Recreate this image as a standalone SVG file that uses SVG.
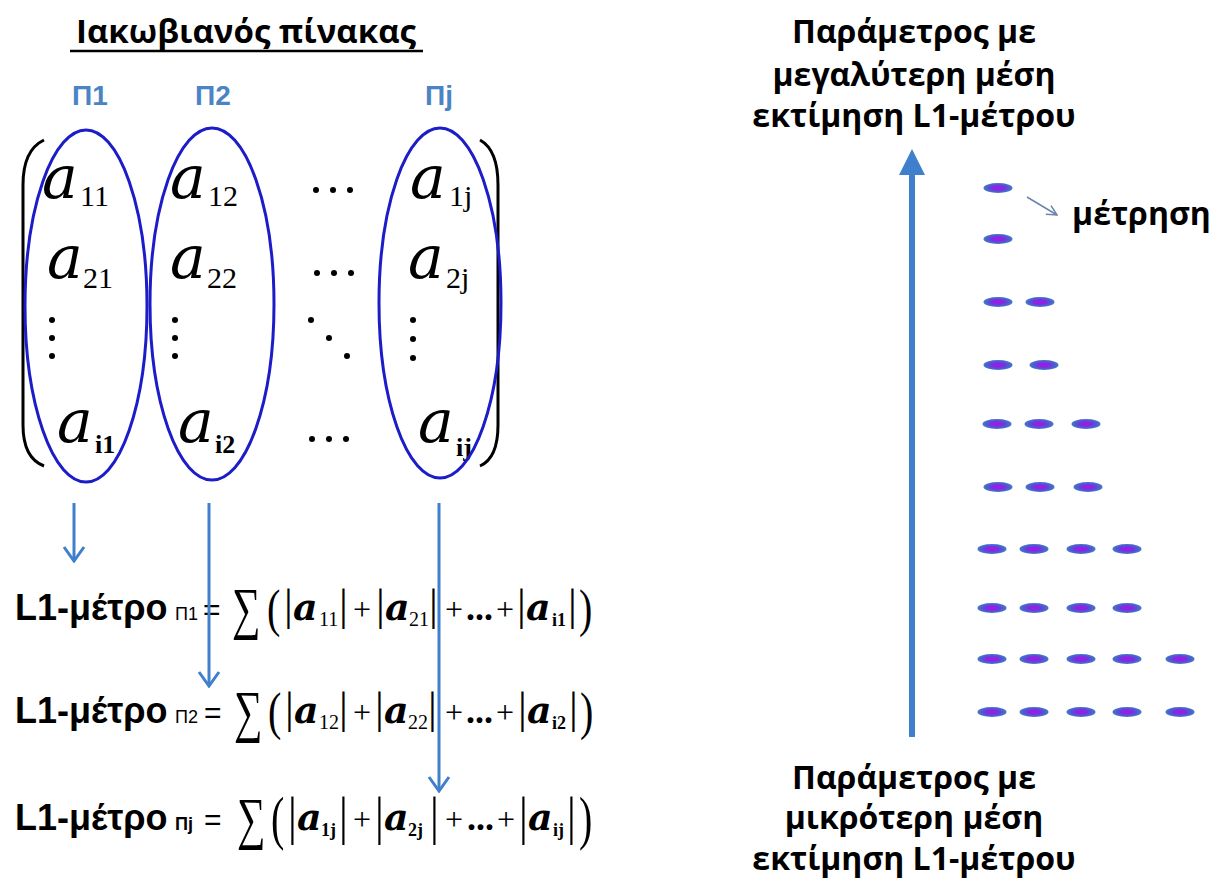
<svg xmlns="http://www.w3.org/2000/svg" width="1231" height="880" viewBox="0 0 1231 880">
<defs>
<style>
.title{font-family:"Open Sans","Noto Sans",sans-serif;font-weight:bold;font-size:33px;fill:#000}
.pl{font-family:"Liberation Sans",Arial,sans-serif;font-weight:bold;font-size:28px;fill:#4a84c4}
.ma{font-family:"DejaVu Serif",serif;font-style:italic;font-size:60px;fill:#000}
.ms{font-family:"Liberation Serif",serif;font-size:30px;fill:#000}
.msb{font-family:"Liberation Serif",serif;font-weight:bold;font-size:26px;fill:#000}
.lab{font-family:"Liberation Sans",Arial,sans-serif;font-weight:bold;font-size:36px;fill:#000}
.sub{font-family:"Liberation Sans",Arial,sans-serif;font-size:18px;fill:#000}
.eq{font-family:"Liberation Serif",serif;font-size:40px;fill:#000}
.op{font-family:"Liberation Sans",Arial,sans-serif;font-size:30px;fill:#000}
.pls{font-family:"Liberation Serif",serif;font-size:32px;fill:#000}
.bar{font-family:"Liberation Serif",serif;font-size:44px;fill:#000}
.dots{font-family:"Liberation Serif",serif;font-weight:bold;font-size:36px;fill:#000}
.ea{font-family:"DejaVu Serif",serif;font-style:italic;font-weight:bold;font-size:38px;fill:#000}
.es{font-family:"Liberation Serif",serif;font-size:20px;fill:#000}
.esb{font-family:"Liberation Serif",serif;font-weight:bold;font-size:18px;fill:#000}
.rt{font-family:"Open Sans","Noto Sans",sans-serif;font-weight:bold;font-size:32px;fill:#000;text-anchor:middle}
.ell{fill:none;stroke:#1c1cc8;stroke-width:3}
.arr{stroke:#3f7fcc;stroke-width:3;fill:none}
.dash{fill:url(#dg)}
.dot{fill:#000}
</style>
<radialGradient id="dg" cx="0.5" cy="0.5" r="0.5">
<stop offset="0" stop-color="#b010e8"/>
<stop offset="0.45" stop-color="#7a30e0"/>
<stop offset="0.75" stop-color="#4a5fd0"/>
<stop offset="1" stop-color="#4a78c8"/>
</radialGradient>
<marker id="chev" viewBox="0 0 20 24" refX="18" refY="12" markerWidth="20" markerHeight="24" markerUnits="userSpaceOnUse" orient="auto">
<path d="M4 2 L18 12 L4 22" fill="none" stroke="#3f7fcc" stroke-width="3"/>
</marker>
<marker id="small" viewBox="0 0 12 12" refX="11" refY="6" markerWidth="12" markerHeight="12" markerUnits="userSpaceOnUse" orient="auto">
<path d="M1 1 L11 6 L1 11" fill="none" stroke="#6a86a8" stroke-width="1.5"/>
</marker>
</defs>

<g id="title">
<text class="title" x="246" y="43" text-anchor="middle">Ιακωβιανός πίνακας</text>
<line x1="70" y1="51" x2="423" y2="51" stroke="#000" stroke-width="2.5"/>
</g>

<g id="column-labels">
<text class="pl" x="72" y="105">Π1</text>
<text class="pl" x="195" y="105">Π2</text>
<text class="pl" x="425" y="105">Πj</text>
</g>

<g id="matrix">
<path d="M44 140 Q23 150 23 185 L23 425 Q23 458 44 466" fill="none" stroke="#000" stroke-width="3"/>
<path d="M480 140 Q498 150 498 185 L498 425 Q498 458 480 466" fill="none" stroke="#000" stroke-width="3"/>
<text class="ma" x="42" y="198">a</text><text class="ms" x="80" y="206">11</text>
<text class="ma" x="170" y="198">a</text><text class="ms" x="208" y="206">12</text>
<circle class="dot" cx="316" cy="190" r="3"/><circle class="dot" cx="333" cy="190" r="3"/><circle class="dot" cx="350" cy="190" r="3"/>
<text class="ma" x="410" y="198">a</text><text class="ms" x="449" y="206">1j</text>

<text class="ma" x="47" y="278">a</text><text class="ms" x="83" y="288">21</text>
<text class="ma" x="170" y="278">a</text><text class="ms" x="207" y="288">22</text>
<circle class="dot" cx="317" cy="273" r="3"/><circle class="dot" cx="334" cy="273" r="3"/><circle class="dot" cx="351" cy="273" r="3"/>
<text class="ma" x="408" y="278">a</text><text class="ms" x="446" y="288">2j</text>

<circle class="dot" cx="52" cy="320" r="3"/><circle class="dot" cx="52" cy="338" r="3"/><circle class="dot" cx="52" cy="356" r="3"/>
<circle class="dot" cx="175" cy="320" r="3"/><circle class="dot" cx="175" cy="338" r="3"/><circle class="dot" cx="175" cy="356" r="3"/>
<circle class="dot" cx="311" cy="320" r="3"/><circle class="dot" cx="329" cy="338" r="3"/><circle class="dot" cx="347" cy="356" r="3"/>
<circle class="dot" cx="413" cy="320" r="3"/><circle class="dot" cx="413" cy="339" r="3"/><circle class="dot" cx="413" cy="358" r="3"/>

<text class="ma" x="57" y="442">a</text><text class="msb" x="95" y="453">i1</text>
<text class="ma" x="178" y="442">a</text><text class="msb" x="215" y="453">i2</text>
<circle class="dot" cx="312" cy="439" r="3"/><circle class="dot" cx="329" cy="439" r="3"/><circle class="dot" cx="346" cy="439" r="3"/>
<text class="ma" x="418" y="442">a</text><text class="msb" x="456" y="456">ij</text>
</g>

<g id="column-ellipses">
<ellipse class="ell" cx="86" cy="306" rx="61" ry="176"/>
<ellipse class="ell" cx="212" cy="304" rx="62" ry="176"/>
<ellipse class="ell" cx="440" cy="303" rx="61" ry="175"/>
</g>

<g id="eq1">
<text class="lab" x="15" y="620">L1-μέτρο</text>
<text class="sub" x="175" y="620">Π1</text>
<text class="op" x="203" y="620">=</text>
<text class="eq" transform="translate(232,628) scale(1,1.45)" x="0" y="0" font-size="46">∑</text>
<text class="eq" transform="translate(267,626) scale(1,1.3)" x="0" y="0">(</text>
<text class="bar" x="284" y="620">|</text><text class="ea" x="293" y="620">a</text><text class="es" x="319" y="626">11</text><text class="bar" x="339" y="620">|</text>
<text class="pls" x="353" y="620">+</text>
<text class="bar" x="376" y="620">|</text><text class="ea" x="385" y="620">a</text><text class="es" x="409" y="626">21</text><text class="bar" x="429" y="620">|</text>
<text class="pls" x="445" y="620">+</text>
<text class="dots" x="466" y="620">...</text>
<text class="pls" x="496" y="620">+</text>
<text class="bar" x="517" y="620">|</text><text class="ea" x="526" y="620">a</text><text class="esb" x="552" y="626">i1</text><text class="bar" x="568" y="620">|</text>
<text class="eq" transform="translate(579,626) scale(1,1.3)" x="0" y="0">)</text>
</g>

<g id="eq2">
<text class="lab" x="15" y="723">L1-μέτρο</text>
<text class="sub" x="175" y="723">Π2</text>
<text class="op" x="204" y="723">=</text>
<text class="eq" transform="translate(234,731) scale(1,1.45)" x="0" y="0" font-size="46">∑</text>
<text class="eq" transform="translate(268,729) scale(1,1.3)" x="0" y="0">(</text>
<text class="bar" x="285" y="723">|</text><text class="ea" x="294" y="723">a</text><text class="es" x="319" y="729">12</text><text class="bar" x="339" y="723">|</text>
<text class="pls" x="353" y="723">+</text>
<text class="bar" x="375" y="723">|</text><text class="ea" x="384" y="723">a</text><text class="es" x="408" y="729">22</text><text class="bar" x="428" y="723">|</text>
<text class="pls" x="445" y="723">+</text>
<text class="dots" x="466" y="723">...</text>
<text class="pls" x="496" y="723">+</text>
<text class="bar" x="518" y="723">|</text><text class="ea" x="527" y="723">a</text><text class="esb" x="552" y="729">i2</text><text class="bar" x="569" y="723">|</text>
<text class="eq" transform="translate(580,729) scale(1,1.3)" x="0" y="0">)</text>
</g>

<g id="eq3">
<text class="lab" x="15" y="830">L1-μέτρο</text>
<text class="sub" x="175" y="830" font-weight="bold">Πj</text>
<text class="op" x="204" y="830">=</text>
<text class="eq" transform="translate(237,838) scale(1,1.45)" x="0" y="0" font-size="46">∑</text>
<text class="eq" transform="translate(271,838) scale(1,1.5)" x="0" y="0">(</text>
<text class="bar" transform="translate(288,834) scale(1,1.2)" x="0" y="0">|</text><text class="ea" x="297" y="830">a</text><text class="esb" x="321" y="836">1j</text><text class="bar" transform="translate(339,834) scale(1,1.2)" x="0" y="0">|</text>
<text class="pls" x="353" y="830">+</text>
<text class="bar" transform="translate(375,834) scale(1,1.2)" x="0" y="0">|</text><text class="ea" x="384" y="830">a</text><text class="esb" x="408" y="836">2j</text><text class="bar" transform="translate(430,834) scale(1,1.2)" x="0" y="0">|</text>
<text class="pls" x="445" y="830">+</text>
<text class="dots" x="467" y="830">...</text>
<text class="pls" x="497" y="830">+</text>
<text class="bar" transform="translate(519,834) scale(1,1.2)" x="0" y="0">|</text><text class="ea" x="528" y="830">a</text><text class="esb" x="553" y="836">ij</text><text class="bar" transform="translate(567,834) scale(1,1.2)" x="0" y="0">|</text>
<text class="eq" transform="translate(579,838) scale(1,1.5)" x="0" y="0">)</text>
</g>

<g id="connectors">
<line class="arr" x1="74" y1="503" x2="74" y2="561" marker-end="url(#chev)"/>
<line class="arr" x1="209" y1="503" x2="209" y2="686" marker-end="url(#chev)"/>
<line class="arr" x1="439" y1="503" x2="439" y2="791" marker-end="url(#chev)"/>
<line x1="912" y1="737" x2="912" y2="170" stroke="#3f7fcc" stroke-width="6"/>
<polygon points="912,149 899,175 925,175" fill="#3f7fcc"/>
<line x1="1027" y1="197" x2="1057" y2="215" stroke="#6a86a8" stroke-width="1.5" marker-end="url(#small)"/>
</g>

<g id="top-label">
<text class="rt" x="914" y="43"><tspan x="914" y="43">Παράμετρος με</tspan><tspan x="914" y="86">μεγαλύτερη μέση</tspan><tspan x="914" y="127">εκτίμηση L1-μέτρου</tspan></text>
</g>

<g id="bottom-label">
<text class="rt" x="914" y="789" font-size="31"><tspan x="914" y="789">Παράμετρος με</tspan><tspan x="914" y="829">μικρότερη μέση</tspan><tspan x="914" y="870">εκτίμηση L1-μέτρου</tspan></text>
</g>

<g id="measurement-label">
<text class="rt" x="1072" y="225" font-size="35" style="text-anchor:start">μέτρηση</text>
</g>

<g id="measurements">
<ellipse class="dash" cx="998" cy="188" rx="14.5" ry="5"/>
<ellipse class="dash" cx="998" cy="239" rx="14.5" ry="5"/>
<ellipse class="dash" cx="998" cy="302" rx="14.5" ry="5"/>
<ellipse class="dash" cx="1040" cy="302" rx="14.5" ry="5"/>
<ellipse class="dash" cx="998" cy="365" rx="14.5" ry="5"/>
<ellipse class="dash" cx="1044" cy="365" rx="14.5" ry="5"/>
<ellipse class="dash" cx="997" cy="424" rx="14.5" ry="5"/>
<ellipse class="dash" cx="1039" cy="424" rx="14.5" ry="5"/>
<ellipse class="dash" cx="1086" cy="424" rx="14.5" ry="5"/>
<ellipse class="dash" cx="998" cy="487" rx="14.5" ry="5"/>
<ellipse class="dash" cx="1040" cy="487" rx="14.5" ry="5"/>
<ellipse class="dash" cx="1088" cy="487" rx="14.5" ry="5"/>
<ellipse class="dash" cx="992" cy="549" rx="14.5" ry="5"/>
<ellipse class="dash" cx="1034" cy="549" rx="14.5" ry="5"/>
<ellipse class="dash" cx="1081" cy="549" rx="14.5" ry="5"/>
<ellipse class="dash" cx="1127" cy="549" rx="14.5" ry="5"/>
<ellipse class="dash" cx="992" cy="608" rx="14.5" ry="5"/>
<ellipse class="dash" cx="1034" cy="608" rx="14.5" ry="5"/>
<ellipse class="dash" cx="1081" cy="608" rx="14.5" ry="5"/>
<ellipse class="dash" cx="1127" cy="608" rx="14.5" ry="5"/>
<ellipse class="dash" cx="992" cy="659" rx="14.5" ry="5"/>
<ellipse class="dash" cx="1034" cy="659" rx="14.5" ry="5"/>
<ellipse class="dash" cx="1081" cy="659" rx="14.5" ry="5"/>
<ellipse class="dash" cx="1127" cy="659" rx="14.5" ry="5"/>
<ellipse class="dash" cx="1180" cy="659" rx="14.5" ry="5"/>
<ellipse class="dash" cx="992" cy="712" rx="14.5" ry="5"/>
<ellipse class="dash" cx="1034" cy="712" rx="14.5" ry="5"/>
<ellipse class="dash" cx="1081" cy="712" rx="14.5" ry="5"/>
<ellipse class="dash" cx="1127" cy="712" rx="14.5" ry="5"/>
<ellipse class="dash" cx="1180" cy="712" rx="14.5" ry="5"/>
</g>
</svg>
